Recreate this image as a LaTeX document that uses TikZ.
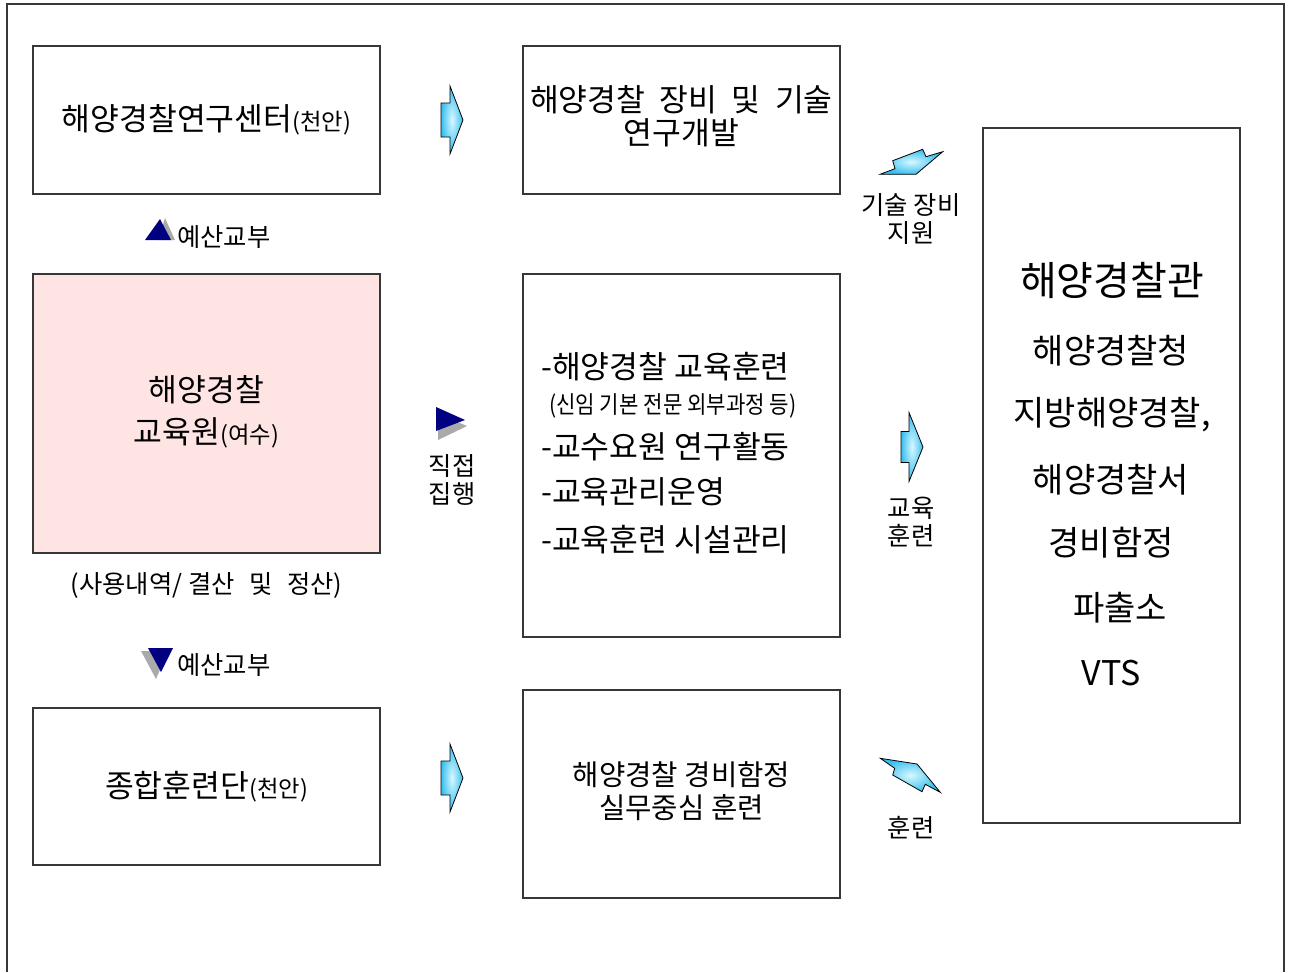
\documentclass[tikz,border=0pt]{standalone}
\usepackage{fontspec}
\setmainfont{Noto Sans CJK KR}
\usetikzlibrary{shadings}
\definecolor{boxline}{RGB}{55,55,55}
\definecolor{pinkfill}{RGB}{255,228,228}
\definecolor{navy}{RGB}{0,0,128}
\definecolor{arrowout}{RGB}{55,190,240}
\definecolor{arrowin}{RGB}{215,248,255}
\definecolor{shadowgray}{RGB}{170,170,170}
\newcommand{\fs}[2]{\fontsize{#1}{#2}\selectfont}
\tikzset{
  box/.style={draw=boxline, line width=1pt, inner sep=0pt, align=center, font=\fs{23.5pt}{28pt}},
  main/.style={inner sep=0pt, font=\fs{23.5pt}{28pt}},
  lbl/.style={inner sep=0pt, align=center, font=\fs{19pt}{20.5pt}},
  itemtxt/.style={inner sep=0pt, anchor=west, font=\fs{23.5pt}{28pt}},
  gtxt/.style={inner sep=0pt, font=\fs{25.5pt}{30pt}},
  barrow/.style={draw=black, line width=0.6pt, inner color=arrowin, outer color=arrowout},
  tri/.style={fill=navy},
  trishadow/.style={fill=shadowgray}
}
\begin{document}
\begin{tikzpicture}[x=0.75pt,y=-0.75pt]
\useasboundingbox (0,0) rectangle (1290,972);
% outer frame
\draw[boxline, line width=1.1pt] (7,972) -- (7,4) -- (1284,4) -- (1284,972);

% boxes
\node[box, minimum width=260.25pt, minimum height=111pt] (A) at (206.5,120)
  {해양경찰연구센터{\fs{17.5pt}{20pt}(천안)}};
\node[box, minimum width=237.75pt, minimum height=111pt] (B) at (681.5,120) {};
\node[main] (Bt1) at (681.5,100) {\makebox[227pt][s]{해양경찰 장비 및 기술}};
\node[main] (Bt2) at (681.5,133) {연구개발};
\node[box, fill=pinkfill, minimum width=260.25pt, minimum height=209.25pt] (C) at (206.5,413.5) {};
\node[main] (Ct1) at (206.5,390) {해양경찰};
\node[main] (Ct2) at (206.5,433) {교육원{\fs{17.5pt}{20pt}(여수)}};
\node[box, minimum width=237.75pt, minimum height=272.25pt] (D) at (681.5,455.5) {};
\node[box, minimum width=260.25pt, minimum height=117.75pt] (E) at (206.5,786.5)
  {종합훈련단{\fs{17.5pt}{20pt}(천안)}};
\node[box, minimum width=237.75pt, minimum height=156pt] (F) at (681.5,794) {};
\node[main, font=\fs{21.5pt}{26pt}] (Ft1) at (681.5,775) {해양경찰 경비함정};
\node[main, font=\fs{21.5pt}{26pt}] (Ft2) at (681.5,808) {실무중심 훈련};
\node[box, minimum width=192.75pt, minimum height=521.25pt] (G) at (1111.5,475.5) {};

% box D items
\node[itemtxt] (D1) at (541,367) {-해양경찰 교육훈련};
\node[itemtxt] (D2) at (549,406) {\scalebox{0.88}[1]{\fs{18pt}{20pt}(신임 기본 전문 외부과정 등)}};
\node[itemtxt] (D3) at (541,447) {-교수요원 연구활동};
\node[itemtxt] (D4) at (541,492) {-교육관리운영};
\node[itemtxt] (D5) at (541,540) {-교육훈련 시설관리};

% box G texts
\node[gtxt, font=\fs{30pt}{34pt}] (G1) at (1112,280) {해양경찰관};
\node[gtxt] (G2) at (1111,351) {해양경찰청};
\node[gtxt] (G3) at (1112,415) {지방해양경찰,};
\node[gtxt] (G4) at (1111,480) {해양경찰서};
\node[gtxt] (G5) at (1111,543) {경비함정};
\node[gtxt] (G6) at (1120,608) {파출소};
\node[gtxt] (G7) at (1111,673) {VTS};

% labels
\node[lbl, anchor=west] (L1) at (177,237) {예산교부};
\node[lbl, anchor=west] (L2) at (177,665) {예산교부};
\node[lbl] (L3) at (206.5,585) {(사용내역/ 결산\hspace{0.35em} 및\hspace{0.35em} 정산)};
\node[lbl] (L4) at (452,480) {직접\\집행};
\node[lbl] (L5) at (911,219) {기술 장비\\지원};
\node[lbl] (L6) at (911,522) {교육\\훈련};
\node[lbl] (L7) at (911,828) {훈련};

% straight block arrows
\coordinate (ar1) at (452,120);
\coordinate (ar2) at (912,447);
\coordinate (ar3) at (452,778);
\foreach \c in {ar1,ar3}{
  \draw[barrow] (\c) ++(-11,-17) -- ++(9,0) -- ++(0,-17) -- ++(13,34) -- ++(-13,34) -- ++(0,-17) -- ++(-9,0) -- cycle;
}
\draw[barrow] (ar2) ++(-11,-15.5) -- ++(8,0) -- ++(0,-19) -- ++(14,34.5) -- ++(-14,34.5) -- ++(0,-19) -- ++(-8,0) -- cycle;

% skewed block arrows
\draw[barrow] (880,174.3) -- (895,168.7) -- (892.7,160.7) -- (922.7,149.3) -- (926,156.7) -- (942.7,151.7) -- (916,174.3) -- cycle;
\draw[barrow] (880.3,758.3) -- (917,764) -- (940.3,792.3) -- (925.3,784.3) -- (922,791.7) -- (892.7,775) -- (894.7,768.3) -- cycle;

% triangles
\fill[trishadow] (158,240) -- (165,218) -- (175,240) -- cycle;
\fill[tri] (145,240) -- (160,219) -- (171,240) -- cycle;  
\fill[trishadow] (141,651) -- (168,651) -- (156,679) -- cycle;
\fill[tri] (148,648) -- (173,648) -- (161,672) -- cycle;
\fill[trishadow] (438,414) -- (438,440) -- (467,426) -- cycle;
\fill[tri] (436,407) -- (436,431) -- (465,420) -- cycle;
\end{tikzpicture}
\end{document}
